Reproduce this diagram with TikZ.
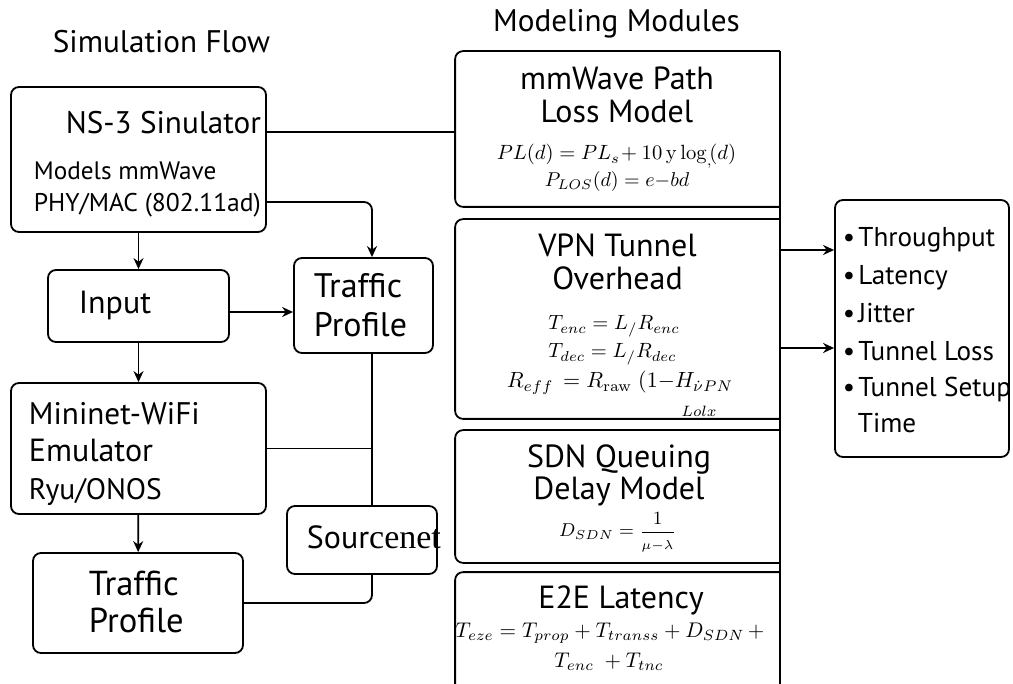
\RequirePackage{fix-cm}
\documentclass[tikz,border=0pt]{standalone}
\usepackage[no-math]{fontspec}
\setsansfont{PT Sans}
\newfontfamily\seriffont{Liberation Serif}
\usepackage{amsmath}
\usetikzlibrary{arrows.meta, calc}

\begin{document}
\begin{tikzpicture}[%
    x=0.5pt, y=-0.5pt,
    line width=0.9pt,
    box/.style = {draw, rounded corners=4pt, inner sep=0pt},
    mod/.style = {inner sep=0pt},
    head/.style = {inner sep=0pt, anchor=base, font=\sffamily\fontsize{15.6}{18}\selectfont},
    txt/.style = {inner sep=0pt, anchor=base west, font=\sffamily\fontsize{#1}{18}\selectfont},
    txt/.default = 16,
    title/.style = {inner sep=0pt, anchor=base, font=\sffamily\fontsize{16}{18}\selectfont},
    eq/.style = {inner sep=0pt, anchor=base, font=\fontsize{#1}{#1}\selectfont},
    item/.style = {inner sep=0pt, anchor=base west, font=\sffamily\fontsize{13.6}{16}\selectfont},
    arr/.style = {-{Stealth[length=5.5pt, width=5pt]}},
    every edge/.style = {draw, arr}
]
\useasboundingbox (0,0) rectangle (1013,684);

% headings
\node (hsim) [head] at (161.5,53) {Simulation Flow};
\node (hmod) [head] at (616.5,32) {Modeling Modules};

% simulation flow
\node (ns3) [box, minimum width=127.5pt, minimum height=72.5pt] at (138.5,159.5) {};
\node (inp) [box, minimum width=90.5pt, minimum height=36pt] at (138.5,306) {};
\node (tp1) [box, minimum width=69.5pt, minimum height=47.5pt] at (363.5,305.5) {};
\node (mn)  [box, minimum width=127.5pt, minimum height=65.5pt] at (138.5,448.5) {};
\node (src) [box, minimum width=75pt, minimum height=34pt] at (362,540) {};
\node (tp2) [box, minimum width=105pt, minimum height=50pt] at (138,603) {};
\coordinate (bus) at (372,0);

\node (ns3t1) [txt=15.6] at (65,134) {NS-3 Sinulator};
\node (ns3t2) [txt=12.6] at (33,180) {Models mmWave};
\node (ns3t3) [txt=12.8] at (33,212) {PHY/MAC (802.11ad)};
\node (inpt)  [txt] at (78,314) {Input};
\node (tp1t1) [txt=17] at (313,298) {Traffic};
\node (tp1t2) [txt=17] at (313,337) {Profile};
\node (mnt1)  [txt=15.6] at (28,425) {Mininet-WiFi};
\node (mnt2)  [txt] at (28,462) {Emulator};
\node (mnt3)  [txt=14.8] at (28,499) {Ryu/ONOS};
\node (srct)  [txt] at (306,548) {Sour{\seriffont\fontsize{17}{19}\selectfont cenet}};
\node (tp2t1) [txt=17.3] at (88,595) {Traffic};
\node (tp2t2) [txt=17.3] at (88,632) {Profile};

\path
    (ns3) edge (inp)
    (inp) edge (mn)
    (mn) edge (tp2)
    ([yshift=-3pt]inp.east) edge ([yshift=-3pt]inp.east -| tp1.west);
\draw[arr, rounded corners=4pt] ([yshift=-21.25pt]ns3.east) -| (tp1.north -| bus);
\draw (mn.east) -- (mn.east -| bus);
\draw (tp1.south -| bus) -- (src.north -| bus);
\draw[rounded corners=4pt] (src.south -| bus) |- (tp2.east);

% modeling modules
\node (mw)  [mod, minimum width=161.5pt, minimum height=77pt] at (617.5,129) {};
\node (vpn) [mod, minimum width=161.5pt, minimum height=99pt] at (617.5,319) {};
\node (sdn) [mod, minimum width=161.5pt, minimum height=65.5pt] at (617.5,496.5) {};
\node (e2e) [mod, minimum width=161.5pt, minimum height=55.5pt] at (617.5,628.5) {};
\foreach \m in {mw, vpn, sdn} {
    \draw[rounded corners=4pt] (\m.north east) -| (\m.south west) -- (\m.south east);
}
\draw[rounded corners=4pt] (e2e.north east) -| (e2e.south west);
\draw (mw.north east) -- (e2e.south east);
\draw ([yshift=13.75pt]ns3.east) -- ([yshift=13.75pt]ns3.east -| mw.west);

\node (mwt1) [title] at (617,90) {mmWave Path};
\node (mwt2) [title] at (617,123) {Loss Model};
\node (mwe1) [eq=10.3] at (616.5,160) {$PL(d) = PL_{s}\!+10\,\mathrm{y}\log_{,}\!(d)$};
\node (mwe2) [eq=10] at (617,187) {$P_{LOS}(d) = e{-}bd$};

\node (vpnt1) [title] at (617.5,257) {VPN Tunnel};
\node (vpnt2) [title] at (617.5,290) {Overhead};
\node (vpne1) [eq=10.3] at (614,330) {$T_{enc} = L_{/}R_{enc}$};
\node (vpne2) [eq=10.3] at (612.5,358) {$T_{dec} = L_{/}R_{dec}$};
\node (vpne3) [eq=11] at (620,388) {$R_{eff}\, = R_{\mathrm{raw}}\;(1{-}H_{\dot{\nu}PN}$};
\node (vpne4) [eq=7.5] at (699,416) {$Lolx$};

\node (sdnt1) [title] at (619,467) {SDN Queuing};
\node (sdnt2) [title] at (619,500) {Delay Model};
\node (sdne1) [eq=9.3] at (617.5,537) {$D_{SDN} = \dfrac{1}{\scriptstyle\mu-\lambda}$};

\node (e2et1) [title] at (621,608) {E2E Latency};
\node (e2ee1) [eq=10.6] at (610,637) {$T_{eze} = T_{prop} + T_{transs} + D_{SDN}\, +$};
\node (e2ee2) [eq=10.6] at (609,667) {$T_{enc} \;+ T_{tnc}$};

% results
\node (res) [box, minimum width=87pt, minimum height=128.5pt] at (922,328.5) {};
\foreach \lbl/\y [count=\i] in {Throughput/247, Latency/285, Jitter/323, Tunnel Loss/361, Tunnel Setup/397} {
    \node (r\i) [item] at (842,\y) {\textbullet\hspace{0.12em}\lbl};
}
\node (r6) [item] at (857,432) {Time};
\path
    ([yshift=39.25pt]res.west -| mw.east) edge ([yshift=39.25pt]res.west)
    ([yshift=-9.75pt]res.west -| mw.east) edge ([yshift=-9.75pt]res.west);
\end{tikzpicture}
\end{document}
